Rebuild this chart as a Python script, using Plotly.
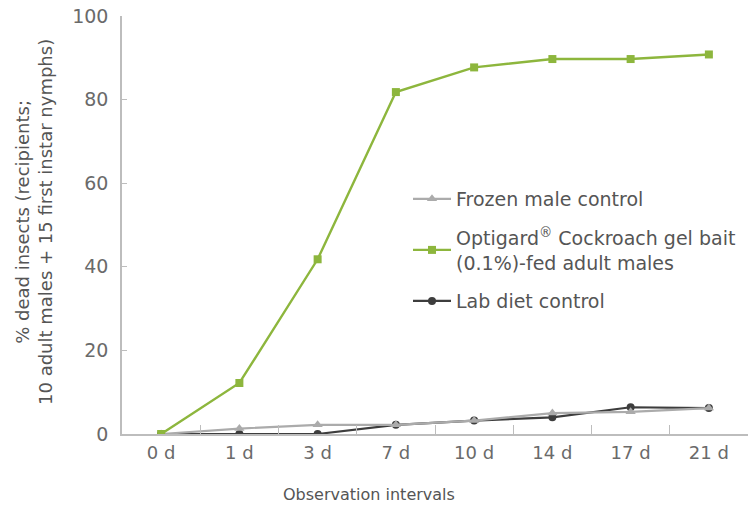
import plotly.graph_objects as go

categories = ["0 d", "1 d", "3 d", "7 d", "10 d", "14 d", "17 d", "21 d"]
frozen = [0, 1.3, 2.2, 2.2, 3.2, 5.0, 5.3, 6.2]
optigard = [0, 12.2, 41.8, 81.8, 87.7, 89.7, 89.7, 90.8]
lab = [0, 0, 0, 2.2, 3.2, 4.0, 6.4, 6.2]
y_ticks = [0, 20, 40, 60, 80, 100]

names = ["Frozen male control",
         "Optigard<sup>®</sup> Cockroach gel bait<br>(0.1%)-fed adult males",
         "Lab diet control"]

FONT = "DejaVu Sans"
W, H = 749, 510
L, T, B, R = 122, 16, 76, 1
PW, PH = W - L - R, H - T - B

fig = go.Figure()
fig.add_trace(go.Scatter(x=categories, y=lab, name=names[2], mode="lines+markers",
                         line=dict(color="#3d3d3d", width=2.2),
                         marker=dict(symbol="circle", size=8, color="#3d3d3d"),
                         legendrank=3, legendgroup="c"))
fig.add_trace(go.Scatter(x=categories, y=frozen, name=names[0], mode="lines+markers",
                         line=dict(color="#ababab", width=2.2),
                         marker=dict(symbol="triangle-up", size=9, color="#ababab"),
                         legendrank=1, legendgroup="a"))
fig.add_trace(go.Scatter(x=categories, y=optigard, name=names[1], mode="lines+markers",
                         line=dict(color="#8db63d", width=2.4),
                         marker=dict(symbol="square", size=8, color="#8db63d"),
                         legendrank=2, legendgroup="b"))

fig.update_layout(
    width=W, height=H,
    margin=dict(l=L, r=R, t=T, b=B, autoexpand=False),
    paper_bgcolor="white", plot_bgcolor="white",
    font=dict(family=FONT, color="#666666"),
    showlegend=True,
    legend=dict(x=(408 - 122) / PW, y=(434 - 180) / PH, xanchor="left", yanchor="top",
                font=dict(size=19, color="#555555"),
                tracegroupgap=11, itemwidth=38,
                bgcolor="rgba(0,0,0,0)"),
    xaxis=dict(type="category", range=[-0.5, 7.5], showgrid=False, automargin=False,
               showline=True, linecolor="#bdbdbd", linewidth=1.5,
               ticks="inside", ticklen=9, tickcolor="#bdbdbd",
               tickson="boundaries", ticklabelstandoff=2,
               tickfont=dict(size=18, color="#6a6a6a")),
    yaxis=dict(range=[0, 100], tickvals=y_ticks, showgrid=False, zeroline=False,
               automargin=False, ticklabeloverflow="allow", ticklabelstandoff=8,
               showline=True, linecolor="#bdbdbd", linewidth=1.5,
               ticks="inside", ticklen=5, tickcolor="#bdbdbd",
               tickfont=dict(size=19, color="#6a6a6a")),
    annotations=[
        dict(text="% dead insects (recipients;<br>10 adult males + 15 first instar nymphs)",
             xref="paper", yref="paper", x=(34 - 122) / PW, y=(434 - 222) / PH,
             xanchor="center", yanchor="middle",
             textangle=-90, showarrow=False, font=dict(size=18, color="#555555")),
        dict(text="Observation intervals", xref="paper", yref="paper",
             x=(369 - 122) / PW, y=-(495 - 434) / PH, xanchor="center", yanchor="middle",
             showarrow=False, font=dict(size=16, color="#555555")),
    ],
)

fig.write_html("out.html", config={"displayModeBar": False},
               post_script="document.body.style.margin='0';document.body.style.overflow='hidden';")
